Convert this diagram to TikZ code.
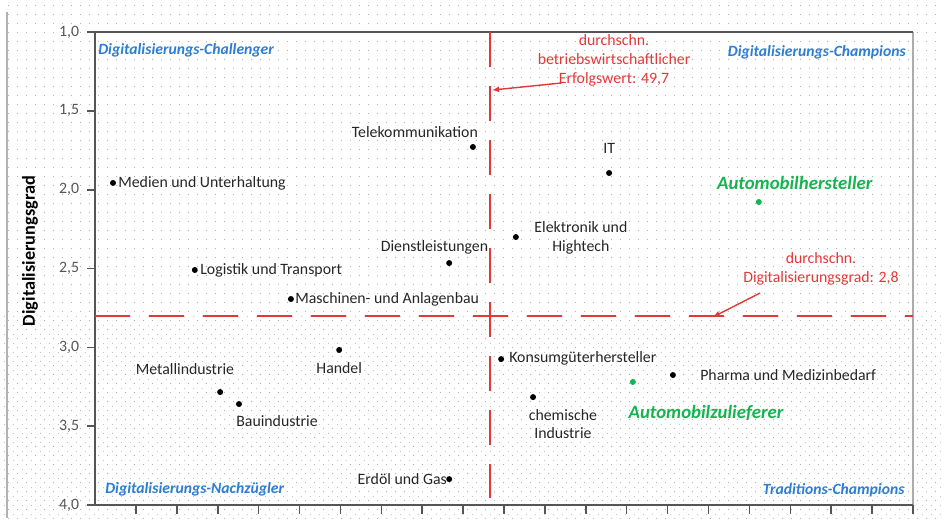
\documentclass[tikz,border=0pt]{standalone}
\usepackage{fontspec}
\setmainfont{Carlito}
\usetikzlibrary{patterns.meta,arrows.meta}
\definecolor{quadblue}{RGB}{45,125,210}
\definecolor{avgred}{RGB}{228,55,55}
\definecolor{autogreen}{RGB}{20,180,80}
\definecolor{axisgray}{RGB}{85,85,85}
\newcommand{\txt}{\fontsize{9}{10.8}\selectfont}

\tikzset{
  branche/.style={font=\txt, text=black!85, inner sep=0pt, align=center},
  quadrant/.style={font=\fontsize{8.9}{10}\selectfont\bfseries\itshape, text=quadblue, inner sep=0pt},
  autolabel/.style={font=\fontsize{10.7}{12}\selectfont\bfseries\itshape, text=autogreen, inner sep=0pt},
  hinweis/.style={font=\txt, text=avgred, align=center, inner sep=0pt},
  punkt/.style={circle, fill=black, inner sep=0pt, minimum size=0.12cm},
  mittel/.style={avgred, line width=1.1pt, dash pattern=on 0.7cm off 0.38cm},
  hinweispfeil/.style={avgred, line width=0.8pt, -{Latex[length=4pt,width=3.5pt]}}
}

\begin{document}
\begin{tikzpicture}[x=0.818cm, y=-3.154cm]
\useasboundingbox (-2.323,0.797) rectangle (20.709,4.082);
% background
\fill[pattern={Dots[distance=0.18cm,radius=0.3pt]}, pattern color=gray!60] (-2.323,0.797) rectangle (20.709,4.082);
\fill[pattern={Dots[distance=0.18cm,radius=0.3pt,xshift=0.09cm,yshift=0.09cm]}, pattern color=gray!45] (-2.323,2.8) rectangle (20.709,4.082);
\draw[gray!60, line width=0.6pt] (-2.152,0.873) -- (-2.152,4.082);

% axes
\draw[gray!65, line width=1.6pt] (20,1) -- (20,4.056);
\draw[axisgray, line width=0.9pt] (20,1) -- (0,1) -- (0,4) -- (20,4);
\foreach \v/\t in {1/{1,0},1.5/{1,5},2/{2,0},2.5/{2,5},3/{3,0},3.5/{3,5},4/{4,0}}
  \draw[axisgray, line width=0.9pt] (0,\v) -- (-0.196,\v) node[left, inner sep=4pt, font=\txt, text=axisgray] {\t};
\foreach \i in {1,...,20}
  \draw[axisgray, line width=0.9pt] (\i,4) -- (\i,4.057);
\node[rotate=90, font=\fontsize{10.4}{12}\selectfont\bfseries] (ytitel) at (-1.589,2.389) {Digitalisierungsgrad};

% averages
\draw[mittel] (9.66,1) -- (9.66,3.955);
\draw[mittel] (0,2.8) -- (20,2.8);

\node[hinweis] (erfolg) at (12.69,1.178) {durchschn.\\betriebswirtschaftlicher\\Erfolgswert: 49,7};
\coordinate (erfolgstart) at (11.41,1.323);
\coordinate (vlinie) at (9.71,1.368);
\draw[hinweispfeil] (erfolgstart) -- (vlinie);

\node[hinweis] (grad) at (17.75,2.503) {durchschn.\\Digitalisierungsgrad: 2,8};
\coordinate (gradstart) at (16.26,2.655);
\coordinate (hlinie) at (15.11,2.807);
\draw[hinweispfeil] (gradstart) -- (hlinie);

% quadrants
\node[quadrant, anchor=west] (challenger) at (0.073,1.114) {Digitalisierungs-Challenger};
\node[quadrant, anchor=east] (champions) at (19.83,1.127) {Digitalisierungs-Champions};
\node[quadrant, anchor=west] (nachzuegler) at (0.244,3.898) {Digitalisierungs-Nachzügler};
\node[quadrant, anchor=east] (tradition) at (19.80,3.904) {Traditions-Champions};

% branches
\node[punkt] (med) at (0.44,1.957) {};
\node[branche, anchor=west] (medlbl) at (0.562,1.957) {Medien und Unterhaltung};
\node[punkt] (tel) at (9.24,1.729) {};
\node[branche] (tellbl) at (7.82,1.634) {Telekommunikation};
\node[punkt] (it) at (12.57,1.894) {};
\node[branche] (itlbl) at (12.57,1.736) {IT};
\node[punkt] (elk) at (10.29,2.300) {};
\node[branche] (elklbl) at (11.88,2.303) {Elektronik und\\Hightech};
\node[punkt] (dl) at (8.66,2.465) {};
\node[branche] (dllbl) at (8.30,2.363) {Dienstleistungen};
\node[punkt] (log) at (2.44,2.509) {};
\node[branche, anchor=west] (loglbl) at (2.567,2.509) {Logistik und Transport};
\node[punkt] (mas) at (4.79,2.693) {};
\node[branche, anchor=west] (maslbl) at (4.89,2.693) {Maschinen- und Anlagenbau};
\node[punkt] (han) at (5.97,3.016) {};
\node[branche] (hanlbl) at (5.97,3.131) {Handel};
\node[punkt] (met) at (3.06,3.283) {};
\node[branche] (metlbl) at (2.20,3.137) {Metallindustrie};
\node[punkt] (bau) at (3.52,3.359) {};
\node[branche] (baulbl) at (4.45,3.467) {Bauindustrie};
\node[punkt] (erd) at (8.66,3.835) {};
\node[branche, anchor=east] (erdlbl) at (8.61,3.835) {Erdöl und Gas};
\node[punkt] (kon) at (9.93,3.074) {};
\node[branche, anchor=west] (konlbl) at (10.12,3.067) {Konsumgüterhersteller};
\node[punkt] (che) at (10.71,3.315) {};
\node[branche] (chelbl) at (11.44,3.486) {chemische\\Industrie};
\node[punkt] (pha) at (14.13,3.175) {};
\node[branche, anchor=west] (phalbl) at (14.79,3.175) {Pharma und Medizinbedarf};

% automotive
\node[punkt, fill=autogreen] (ahs) at (16.23,2.078) {};
\node[autolabel] (ahslbl) at (17.11,1.957) {Automobilhersteller};
\node[punkt, fill=autogreen] (azl) at (13.15,3.219) {};
\node[autolabel] (azllbl) at (14.94,3.416) {Automobilzulieferer};
\end{tikzpicture}
\end{document}
